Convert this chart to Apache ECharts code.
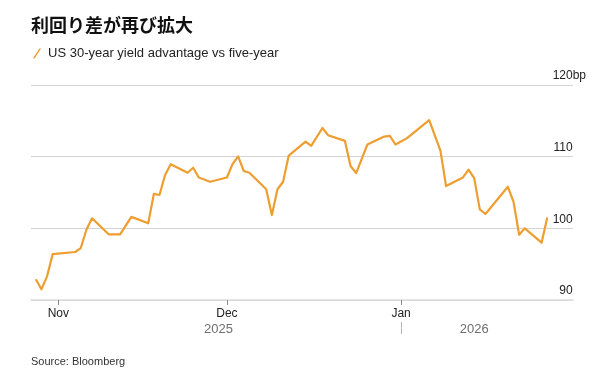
<!DOCTYPE html>
<html>
<head>
<meta charset="utf-8">
<script src="https://cdn.jsdelivr.net/npm/echarts@6/dist/echarts.min.js"></script>
<style>
  html, body { margin: 0; padding: 0; background: #ffffff; }
  #chart { width: 614px; height: 382px; }
</style>
</head>
<body>
<div id="chart"></div>
<script>
// ---- data ----
const dates = [
  '2025-10-28','2025-10-29','2025-10-30','2025-10-31',
  '2025-11-04','2025-11-05','2025-11-06','2025-11-07',
  '2025-11-10','2025-11-12','2025-11-14',
  '2025-11-17','2025-11-18','2025-11-19','2025-11-20','2025-11-21',
  '2025-11-24','2025-11-25','2025-11-26','2025-11-28',
  '2025-12-01','2025-12-02','2025-12-03','2025-12-04','2025-12-05',
  '2025-12-08','2025-12-09','2025-12-10','2025-12-11','2025-12-12',
  '2025-12-15','2025-12-16','2025-12-18','2025-12-19',
  '2025-12-22','2025-12-23','2025-12-24','2025-12-26',
  '2025-12-29','2025-12-30','2025-12-31','2026-01-02',
  '2026-01-06','2026-01-08','2026-01-09',
  '2026-01-12','2026-01-13','2026-01-14','2026-01-15','2026-01-16',
  '2026-01-20','2026-01-21','2026-01-22','2026-01-23',
  '2026-01-26','2026-01-27'
];
const spread = [
  92.9, 91.5, 93.3, 96.4,
  96.7, 97.25, 99.8, 101.4,
  99.15, 99.15, 101.6,
  100.7, 104.8, 104.65, 107.45, 108.95,
  107.75, 108.45, 107.1, 106.5,
  107.1, 108.95, 110.05, 108.0, 107.75,
  105.45, 101.85, 105.45, 106.5, 110.15,
  112.1, 111.5, 114.0, 113.0,
  112.2, 108.7, 107.7, 111.7,
  112.8, 112.9, 111.7, 112.55,
  115.1, 110.8, 105.9,
  107.1, 108.2, 107.0, 102.65, 102.0,
  105.8, 103.7, 99.1, 100.0,
  98.0, 101.5
];
const seriesName = 'US 30-year yield advantage vs five-year';
const monthTickDates = ['2025-11-01','2025-12-01','2026-01-01'];
const monthTickLabels = ['Nov','Dec','Jan'];
const yearLabels = ['2025','2026'];
const yearBoundary = '2026-01-01';
const yTicks = [90, 100, 110, 120];
const xRange = ['2025-10-27T03:25:00Z','2026-01-31T14:00:00Z'];

// ---- build ----
const ts = s => Date.parse(s);
const points = dates.map((d, i) => [ts(d), spread[i]]);
const monthTs = monthTickDates.map(ts);
const boundaryTs = ts(yearBoundary);
const firstTs = ts(dates[0]);
const lastTs = ts(dates[dates.length - 1]);
const yearPos = [(firstTs + boundaryTs) / 2, (boundaryTs + lastTs) / 2];
const xMin = ts(xRange[0]);
const xMax = ts(xRange[1]);

const FONT = '"Liberation Sans", Arial, Helvetica, sans-serif';
const LINE_COLOR = '#EE9E30';

const chart = echarts.init(document.getElementById('chart'), null, { renderer: 'canvas' });
chart.setOption({
  animation: false,
  backgroundColor: '#ffffff',
  textStyle: { fontFamily: FONT },
  title: [
    {
      text: '利回り差が再び拡大',
      left: 31, top: 16, padding: 0,
      textStyle: { fontFamily: '"Noto Sans CJK JP", sans-serif', fontSize: 18, fontWeight: 'bold', color: '#111111' }
    },
    {
      text: 'Source: Bloomberg',
      left: 31, top: 356, padding: 0,
      textStyle: { fontFamily: FONT, fontSize: 11, fontWeight: 'normal', color: '#333333' }
    }
  ],
  legend: {
    left: 33, top: 47, padding: 0,
    itemWidth: 8, itemHeight: 10,
    icon: 'path://M0,10 L1.7,10 L8,0 L6.3,0 Z',
    textStyle: { fontFamily: FONT, fontSize: 13, color: '#222222', padding: [0, 0, 0, 2] },
    data: [seriesName]
  },
  grid: { left: 31, right: 41, top: 85, bottom: 82, containLabel: false },
  xAxis: [
    {
      type: 'value',
      min: xMin, max: xMax,
      axisLine: { show: true, lineStyle: { color: '#dcdcdc', width: 1.5 } },
      axisTick: { show: true, customValues: monthTs, length: 5, lineStyle: { color: '#8a8a8a', width: 1 } },
      axisLabel: {
        customValues: monthTs,
        margin: 8,
        fontSize: 12, color: '#222222', fontFamily: FONT,
        formatter: v => monthTickLabels[monthTs.indexOf(v)] || ''
      },
      splitLine: { show: false }
    },
    {
      type: 'value',
      position: 'bottom',
      offset: 22,
      min: xMin, max: xMax,
      axisLine: { show: false },
      axisTick: { show: true, customValues: [boundaryTs], length: 12, lineStyle: { color: '#b5b5b5', width: 1 } },
      axisLabel: {
        customValues: yearPos,
        margin: 1,
        fontSize: 13, color: '#6e6e6e', fontFamily: FONT,
        formatter: v => yearLabels[yearPos.indexOf(v)] || ''
      },
      splitLine: { show: false }
    }
  ],
  yAxis: {
    type: 'value',
    position: 'right',
    min: yTicks[0], max: yTicks[yTicks.length - 1], interval: 10,
    axisLine: { show: false },
    axisTick: { show: false },
    splitLine: { show: true, lineStyle: { color: '#d4d4d4', width: 1 } },
    axisLabel: {
      inside: false,
      margin: 13,
      align: 'right',
      verticalAlign: 'bottom',
      padding: [0, 0, 3, 0],
      fontSize: 12, color: '#222222', fontFamily: FONT,
      formatter: v => v === yTicks[yTicks.length - 1] ? v + '{u|bp}' : v + '{h|bp}',
      rich: {
        u: { fontSize: 12, color: '#222222', fontFamily: FONT },
        h: { fontSize: 12, color: 'rgba(0,0,0,0)', fontFamily: FONT }
      }
    }
  },
  series: [
    {
      name: seriesName,
      type: 'line',
      xAxisIndex: 0,
      data: points,
      showSymbol: false,
      symbol: 'none',
      color: LINE_COLOR,
      lineStyle: { color: LINE_COLOR, width: 2.2, join: 'round' }
    }
  ]
});
</script>
</body>
</html>
